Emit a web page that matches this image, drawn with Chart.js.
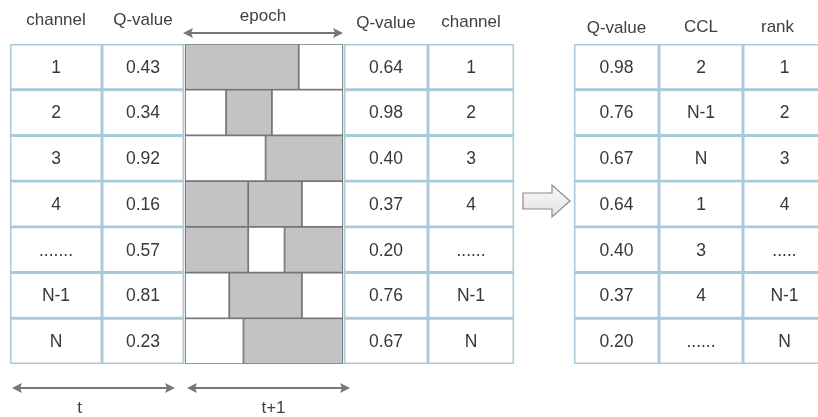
<!DOCTYPE html>
<html>
<head>
<meta charset="utf-8">
<script src="https://cdn.jsdelivr.net/npm/chart.js@4.4.0/dist/chart.umd.min.js"></script>
<style>
  body { margin: 0; background: #fff; }
  #wrap { position: relative; width: 818px; height: 417px; }
</style>
</head>
<body>
<div id="wrap"><canvas id="diagramChart"></canvas></div>
<script>
// rows of the tables (one per channel slot)
const rowLabels = ['r1', 'r2', 'r3', 'r4', 'r5', 'r6', 'r7'];

// time t
const channels = ['1', '2', '3', '4', '.......', 'N-1', 'N'];
const qPrev = [0.43, 0.34, 0.92, 0.16, 0.57, 0.81, 0.23];

// epoch busy/idle pattern per channel, split points in % of the epoch
const epochSplits = [[72], [26, 55], [51], [40, 74], [40, 63], [28, 74], [37]];
const epochBusy = [[1, 0], [0, 1, 0], [0, 1], [1, 1, 0], [1, 0, 1], [0, 1, 0], [0, 1]];

// time t+1
const qNext = [0.64, 0.98, 0.40, 0.37, 0.20, 0.76, 0.67];
const channelsNext = ['1', '2', '3', '4', '......', 'N-1', 'N'];

// ranked result
const qRanked = [0.98, 0.76, 0.67, 0.64, 0.40, 0.37, 0.20];
const cclRanked = ['2', 'N-1', 'N', '1', '3', '4', '......'];
const ranks = ['1', '2', '3', '4', '.....', 'N-1', 'N'];

// layout (pixels)
const W = 818, H = 417;
const cols = [
    { edge: [10, 102], head: 'channel', headY: 20, text: channels },
    { edge: [102, 184], head: 'Q-value', headY: 20, text: qPrev.map(v => v.toFixed(2)) },
    { edge: [344, 428], head: 'Q-value', headY: 23, text: qNext.map(v => v.toFixed(2)) },
    { edge: [428, 514], head: 'channel', headY: 22, text: channelsNext },
    { edge: [574, 659], head: 'Q-value', headY: 28, text: qRanked.map(v => v.toFixed(2)) },
    { edge: [659, 743], head: 'CCL', headY: 27, text: cclRanked },
    { edge: [743, 826], head: 'rank', headY: 27, text: ranks }
];
const epochEdge = [185, 343];
const epochW = epochEdge[1] - epochEdge[0];

const cellBorder = '#a9cad8';
const textColor = '#383838';
const arrowColor = '#767676';
const fontFam = '"Liberation Sans", Arial, sans-serif';

// table columns as floating bars
const datasets = cols.map(c => ({
    label: c.head,
    data: rowLabels.map(() => c.edge),
    xAxisID: 'x',
    backgroundColor: '#ffffff',
    borderColor: cellBorder,
    borderWidth: 1.8,
    borderSkipped: false,
    grouped: false,
    barPercentage: 1,
    categoryPercentage: 1
}));

// epoch segments as floating bars on their own axis (0..100 % of epoch)
const maxSeg = Math.max(...epochBusy.map(r => r.length));
for (let k = 0; k < maxSeg; k++) {
    datasets.push({
        label: 'epoch segment ' + (k + 1),
        data: epochSplits.map((s, i) => {
            const b = [0, ...s, 100];
            return k < b.length - 1 ? [b[k], b[k + 1]] : null;
        }),
        xAxisID: 'xe',
        backgroundColor: ctx => (epochBusy[ctx.dataIndex][k] ? '#c3c3c3' : '#ffffff'),
        borderColor: '#767676',
        borderWidth: 1.2,
        borderSkipped: false,
        grouped: false,
        barPercentage: 1,
        categoryPercentage: 1
    });
}

function doubleArrow(ctx, x0, x1, y) {
    ctx.save();
    ctx.strokeStyle = arrowColor;
    ctx.fillStyle = arrowColor;
    ctx.lineWidth = 2.2;
    ctx.beginPath();
    ctx.moveTo(x0 + 6, y);
    ctx.lineTo(x1 - 6, y);
    ctx.stroke();
    [[x0, 1], [x1, -1]].forEach(([x, d]) => {
        ctx.beginPath();
        ctx.moveTo(x, y);
        ctx.lineTo(x + d * 10, y - 5);
        ctx.lineTo(x + d * 8, y);
        ctx.lineTo(x + d * 10, y + 5);
        ctx.closePath();
        ctx.fill();
    });
    ctx.restore();
}

const labelPlugin = {
    id: 'labelPlugin',
    afterDatasetsDraw(chart) {
        const ctx = chart.ctx;
        const xs = chart.scales.x;
        ctx.save();
        ctx.textAlign = 'center';
        ctx.textBaseline = 'middle';

        // cell texts
        cols.forEach((c, di) => {
            const meta = chart.getDatasetMeta(di);
            ctx.fillStyle = textColor;
            ctx.font = '17.5px ' + fontFam;
            meta.data.forEach((el, i) => {
                const p = el.getCenterPoint();
                ctx.fillText(c.text[i], p.x, p.y + 1);
            });
            // header
            ctx.fillStyle = '#404040';
            ctx.font = '17px ' + fontFam;
            const cx = xs.getPixelForValue((c.edge[0] + Math.min(c.edge[1], 812)) / 2);
            ctx.fillText(c.head, cx, c.headY);
        });

        // epoch / t / t+1 arrows
        const ex0 = xs.getPixelForValue(epochEdge[0] - 2);
        const ex1 = xs.getPixelForValue(epochEdge[1]);
        doubleArrow(ctx, ex0, ex1, 33);
        ctx.fillStyle = '#404040';
        ctx.font = '17px ' + fontFam;
        ctx.fillText('epoch', (ex0 + ex1) / 2, 16);

        const tx0 = xs.getPixelForValue(12), tx1 = xs.getPixelForValue(175);
        doubleArrow(ctx, tx0, tx1, 388);
        ctx.fillText('t', (tx0 + tx1) / 2 - 14, 408);
        const ux0 = xs.getPixelForValue(187), ux1 = xs.getPixelForValue(350);
        doubleArrow(ctx, ux0, ux1, 388);
        ctx.fillText('t+1', (ux0 + ux1) / 2 + 5, 408);

        // hollow block arrow between the tables
        const ax0 = xs.getPixelForValue(523), ah = xs.getPixelForValue(552), ax1 = xs.getPixelForValue(570);
        const ay = 201;
        ctx.beginPath();
        ctx.moveTo(ax0, ay - 8);
        ctx.lineTo(ah, ay - 8);
        ctx.lineTo(ah, ay - 16);
        ctx.lineTo(ax1, ay);
        ctx.lineTo(ah, ay + 16);
        ctx.lineTo(ah, ay + 8);
        ctx.lineTo(ax0, ay + 8);
        ctx.closePath();
        const g = ctx.createLinearGradient(0, ay - 16, 0, ay + 16);
        g.addColorStop(0, '#fafafa');
        g.addColorStop(1, '#e2e2e2');
        ctx.fillStyle = g;
        ctx.fill();
        ctx.strokeStyle = '#8a8a8a';
        ctx.lineWidth = 1.2;
        ctx.stroke();
        ctx.restore();
    }
};

new Chart(document.getElementById('diagramChart').getContext('2d'), {
    type: 'bar',
    data: { labels: rowLabels, datasets: datasets },
    options: {
        indexAxis: 'y',
        responsive: true,
        maintainAspectRatio: false,
        animation: false,
        layout: { padding: { top: 44, bottom: H - 364, left: 0, right: 0 } },
        plugins: { legend: { display: false }, tooltip: { enabled: false } },
        scales: {
            y: { type: 'category', display: false, grid: { display: false } },
            x: { type: 'linear', min: 0, max: W, display: false },
            xe: {
                type: 'linear',
                display: false,
                min: -epochEdge[0] / epochW * 100,
                max: (W - epochEdge[0]) / epochW * 100
            }
        }
    },
    plugins: [labelPlugin]
});
</script>
</body>
</html>
